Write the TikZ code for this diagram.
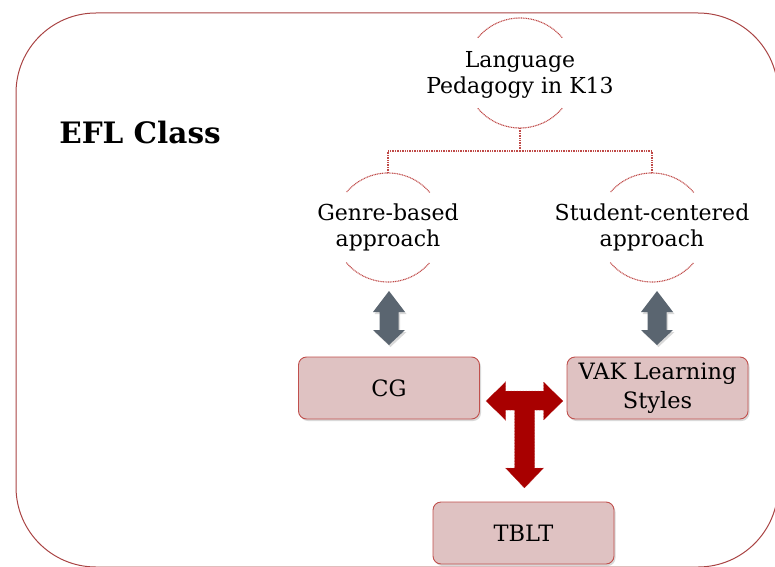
\documentclass[tikz,border=0pt]{standalone}
\usepackage{fontspec}
\setmainfont{DejaVu Serif}
\usetikzlibrary{shadows}
\definecolor{frameRed}{HTML}{A94444}
\definecolor{dotRed}{HTML}{BF4A48}
\definecolor{boxFill}{HTML}{DFC2C2}
\definecolor{boxLine}{HTML}{C0504D}
\definecolor{slate}{HTML}{5A6570}
\definecolor{deepRed}{HTML}{A80000}
\tikzset{
  txt/.style={font=\fontsize{22}{25.5}\selectfont, align=center, text=black},
  ring/.style={inner sep=0pt, txt},
  dotline/.style={dotRed, dash pattern=on 1pt off 0.7pt, line width=1.1pt},
  pinkbox/.style={draw=boxLine, line width=0.9pt, fill=boxFill, rounded corners=8pt,
    minimum width=181pt, minimum height=62pt, inner sep=2pt,
    font=\fontsize{22.5}{29}\selectfont, align=center, text=black,
    drop shadow={shadow xshift=1.5pt, shadow yshift=-2pt, opacity=0.3}},
  greyarrow/.style={fill=slate, drop shadow={shadow xshift=1.5pt, shadow yshift=-2pt, opacity=0.3}},
}
\begin{document}
\begin{tikzpicture}[x=1pt,y=1pt]
\useasboundingbox (0,0) rectangle (775,566);

% outer frame
\draw[frameRed, line width=1pt, rounded corners=80pt] (16,553) rectangle (778,-1);

% title
\node[font=\fontsize{29.5}{34}\selectfont\bfseries] (efl) at (140,433) {EFL Class};

% hierarchy labels, each inside a ring of which only the top and bottom arcs show
\node[ring] (lp) at (520,491) {Language\\Pedagogy in K13};
\node[ring] (gb) at (388,338.5) {Genre-based\\approach};
\node[ring] (sc) at (652,338.5) {Student-centered\\approach};

\foreach \n/\r/\dy in {lp/55/2, gb/54.5/0, sc/54.5/0}{
  \draw[dotline] (\n.center) ++(0,\dy) ++(40:\r) arc[start angle=40, end angle=140, radius=\r pt];
  \draw[dotline] (\n.center) ++(0,\dy) ++(220:\r) arc[start angle=220, end angle=320, radius=\r pt];
}

% tree connector
\coordinate (lpfoot) at ([yshift=-53pt]lp.center);
\coordinate (bus) at (520,415);
\coordinate (gbtop) at ([yshift=54.5pt]gb.center);
\coordinate (sctop) at ([yshift=54.5pt]sc.center);
\draw[dotline] (lpfoot) -- (bus);
\draw[dotline] (bus) -| (gbtop);
\draw[dotline] (bus) -| (sctop);

% boxes
\node[pinkbox] (cg) at (389,178) {CG};
\node[pinkbox] (vak) at (657.5,178) {VAK Learning\\Styles};
\node[pinkbox] (tblt) at (523.5,33) {TBLT};

% grey double arrows between rings and boxes
\foreach \cx in {389, 657}{
  \fill[greyarrow] (\cx,275) -- (\cx+16,254) -- (\cx+9.5,254) -- (\cx+9.5,236)
    -- (\cx+16,236) -- (\cx,221) -- (\cx-16,236) -- (\cx-9.5,236)
    -- (\cx-9.5,254) -- (\cx-16,254) -- cycle;
}

% red T-shaped arrow joining CG, VAK and TBLT
\fill[deepRed, draw=deepRed!85!white, densely dotted, line width=0.5pt]
  (486,165) -- (505.5,184) -- (505.5,175) -- (543.5,175) -- (543.5,184)
  -- (563,165) -- (543.5,146) -- (543.5,156) -- (534.5,156) -- (534.5,98)
  -- (543.5,98) -- (524.5,78) -- (505.5,98) -- (514.5,98) -- (514.5,156)
  -- (505.5,156) -- (505.5,146) -- cycle;

\end{tikzpicture}
\end{document}
